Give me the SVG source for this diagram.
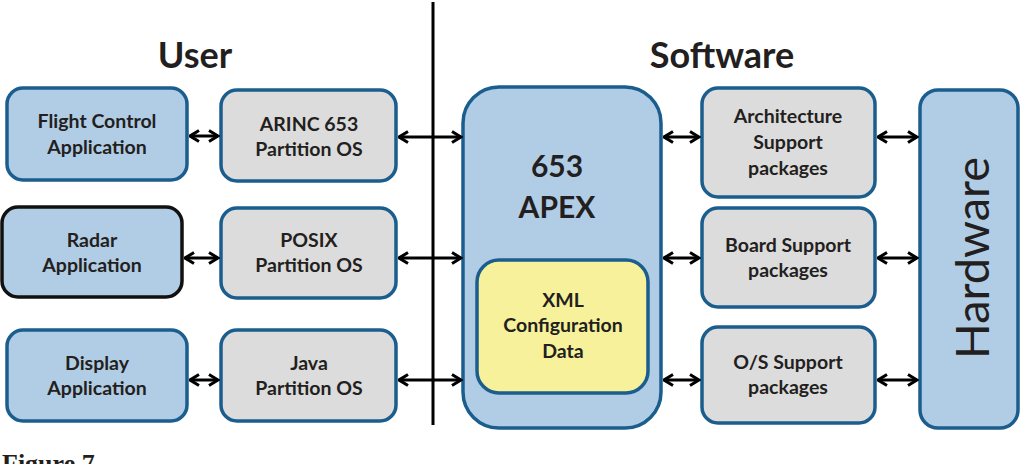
<svg xmlns="http://www.w3.org/2000/svg" width="1020" height="464" viewBox="0 0 1020 464">
<style>
.app{fill:#b1cde6;stroke:#1b5e8e;stroke-width:3.5}
.os{fill:#dcdcdc;stroke:#1b5e8e;stroke-width:3.5}
.xml{fill:#f6f19a;stroke:#1b5e8e;stroke-width:3.5}
.t{font-family:Lato,"Open Sans",sans-serif;font-weight:bold;font-size:19.5px;fill:#231f20;text-anchor:middle}
.big{font-family:Lato,"Open Sans",sans-serif;font-weight:bold;font-size:30px;fill:#231f20;text-anchor:middle}
.hd{font-family:Lato,"Open Sans",sans-serif;font-weight:bold;font-size:36px;fill:#231f20;text-anchor:middle}
.c{stroke:#000;stroke-width:3;fill:none;marker-start:url(#ah);marker-end:url(#ah)}
</style>
<defs>
<marker id="ah" viewBox="0 0 12 14" refX="10.5" refY="7" markerWidth="12" markerHeight="14" markerUnits="userSpaceOnUse" orient="auto-start-reverse">
<path d="M1.5,1.5 L10.5,7 L1.5,12.5" fill="none" stroke="#000" stroke-width="3"/>
</marker>
</defs>
<rect width="1020" height="464" fill="#fff"/>
<text class="hd" x="195" y="68">User</text>
<text class="hd" x="722" y="68">Software</text>
<line x1="433" y1="2" x2="433" y2="425" stroke="#000" stroke-width="3"/>
<g id="flight"><rect class="app" x="7" y="88" width="180" height="92" rx="16"/><text class="t" x="97" y="128">Flight Control</text><text class="t" x="97" y="154">Application</text></g>
<g id="arinc"><rect class="os" x="221" y="90" width="175" height="91" rx="16"/><text class="t" x="309" y="131">ARINC 653</text><text class="t" x="309" y="156">Partition OS</text></g>
<g id="radar"><rect x="2" y="207" width="180" height="90" rx="16" fill="#b1cde6" stroke="#111" stroke-width="3.5"/><text class="t" x="92" y="247">Radar</text><text class="t" x="92" y="272">Application</text></g>
<g id="posix"><rect class="os" x="221" y="208" width="175" height="90" rx="16"/><text class="t" x="309" y="247">POSIX</text><text class="t" x="309" y="272">Partition OS</text></g>
<g id="display"><rect class="app" x="7" y="330" width="180" height="91" rx="16"/><text class="t" x="97" y="370">Display</text><text class="t" x="97" y="395">Application</text></g>
<g id="java"><rect class="os" x="221" y="330" width="175" height="91" rx="16"/><text class="t" x="309" y="370">Java</text><text class="t" x="309" y="395">Partition OS</text></g>
<g id="apex"><rect class="app" x="463" y="87" width="198" height="341" rx="36"/><text class="big" x="557" y="177">653</text><text class="big" x="557" y="218">APEX</text></g>
<g id="xml"><rect class="xml" x="477" y="260" width="171" height="133" rx="22"/><text class="t" x="563" y="307">XML</text><text class="t" x="563" y="332">Configuration</text><text class="t" x="563" y="358">Data</text></g>
<g id="arch"><rect class="os" x="702" y="88" width="173" height="109" rx="16"/><text class="t" x="788" y="123">Architecture</text><text class="t" x="788" y="149">Support</text><text class="t" x="788" y="175">packages</text></g>
<g id="board"><rect class="os" x="702" y="208" width="173" height="99" rx="16"/><text class="t" x="788" y="252">Board Support</text><text class="t" x="788" y="277">packages</text></g>
<g id="ossp"><rect class="os" x="702" y="327" width="173" height="96" rx="16"/><text class="t" x="788" y="369">O/S Support</text><text class="t" x="788" y="394">packages</text></g>
<g id="hardware"><rect class="app" x="920" y="90" width="98" height="338" rx="18"/><text transform="translate(989,258) rotate(-90)" font-family="Lato,'Open Sans',sans-serif" font-size="47" fill="#231f20" text-anchor="middle">Hardware</text></g>
<g id="connectors">
<line class="c" x1="190" y1="136" x2="218" y2="136"/>
<line class="c" x1="185" y1="258" x2="218" y2="258"/>
<line class="c" x1="190" y1="380" x2="218" y2="380"/>
<line class="c" x1="399" y1="137" x2="461" y2="137"/>
<line class="c" x1="399" y1="258" x2="461" y2="258"/>
<line class="c" x1="399" y1="380" x2="461" y2="380"/>
<line class="c" x1="664" y1="137" x2="699" y2="137"/>
<line class="c" x1="664" y1="258" x2="699" y2="258"/>
<line class="c" x1="664" y1="380" x2="699" y2="380"/>
<line class="c" x1="878" y1="137" x2="917" y2="137"/>
<line class="c" x1="878" y1="258" x2="917" y2="258"/>
<line class="c" x1="878" y1="380" x2="917" y2="380"/>
</g>
<text x="2" y="472" font-family="'Liberation Serif',serif" font-weight="bold" font-size="26" fill="#231f20">Figure 7</text>
</svg>
